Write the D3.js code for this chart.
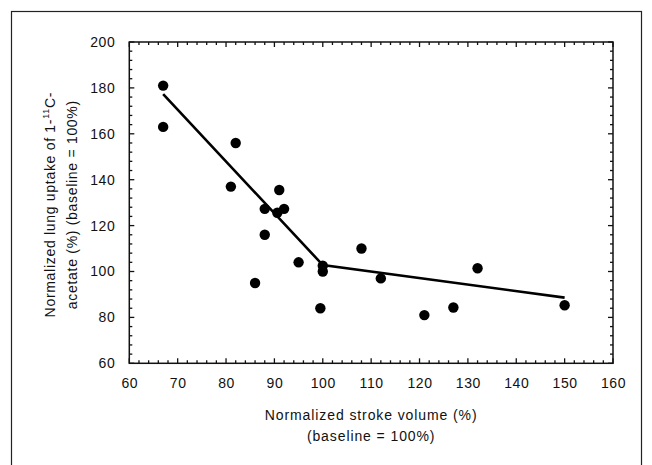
<!DOCTYPE html>
<html>
<head>
<meta charset="utf-8">
<script src="https://cdn.jsdelivr.net/npm/d3@7"></script>
<style>
html,body{margin:0;padding:0;background:#fff;}
svg{display:block;}
text{font-family:"Liberation Sans",Arial,Helvetica,sans-serif;fill:#111;}
</style>
</head>
<body>
<svg id="chart" width="652" height="465"></svg>
<script>
// Data
const strokeVolume = [67, 67, 82, 81, 91, 88, 92, 90.6, 88, 95, 100, 100, 86, 99.5, 108, 112, 121, 127, 132, 150];
const lungUptake  = [181, 163, 156, 137, 135.5, 127.3, 127.3, 125.6, 116, 104, 102.5, 100, 95, 84, 110, 97, 81, 84.3, 101.4, 85.3];
const fitX = [67, 100, 150];
const fitY = [177.3, 102.8, 88.6];
const xTicks = [60, 70, 80, 90, 100, 110, 120, 130, 140, 150, 160];
const yTicks = [60, 80, 100, 120, 140, 160, 180, 200];

const svg = d3.select("#chart");
const L = 129.3, R = 613, T = 42, B = 363.3;

// outer frame
svg.append("rect").attr("x", 11.5).attr("y", 11.5).attr("width", 630).attr("height", 470)
  .attr("fill", "none").attr("stroke", "#222").attr("stroke-width", 1.2);

const x = d3.scaleLinear().domain([60, 160]).range([L, R]);
const y = d3.scaleLinear().domain([60, 200]).range([B, T]);

// plot box
svg.append("rect").attr("x", L).attr("y", T).attr("width", R - L).attr("height", B - T)
  .attr("fill", "none").attr("stroke", "#111").attr("stroke-width", 1.5);

const g = svg.append("g");
const xMinor = d3.range(60, 160.1, 2);
const yMinor = d3.range(60, 200.1, 4);
xMinor.forEach(v => {
  const len = (v % 10 === 0) ? 5 : 3;
  g.append("line").attr("x1", x(v)).attr("x2", x(v)).attr("y1", B).attr("y2", B - len);
  g.append("line").attr("x1", x(v)).attr("x2", x(v)).attr("y1", T).attr("y2", T + len);
});
yMinor.forEach(v => {
  const len = (v % 20 === 0) ? 5 : 3;
  g.append("line").attr("y1", y(v)).attr("y2", y(v)).attr("x1", L).attr("x2", L + len);
  g.append("line").attr("y1", y(v)).attr("y2", y(v)).attr("x1", R).attr("x2", R - len);
});
g.selectAll("line").attr("stroke", "#111").attr("stroke-width", 1.3);

const xAxis = svg.append("g").attr("transform", `translate(0,${B})`)
  .call(d3.axisBottom(x).tickValues(xTicks).tickSize(0).tickPadding(15));
xAxis.select(".domain").remove();
xAxis.selectAll("text").attr("font-size", 14).attr("fill", "#111").attr("letter-spacing", 0.6)
  .style("font-family", '"Liberation Sans",Arial,sans-serif');

const yAxis = svg.append("g").attr("transform", `translate(${L},0)`)
  .call(d3.axisLeft(y).tickValues(yTicks).tickSize(0).tickPadding(14));
yAxis.select(".domain").remove();
yAxis.selectAll("text").attr("font-size", 14).attr("fill", "#111").attr("letter-spacing", 0.6)
  .style("font-family", '"Liberation Sans",Arial,sans-serif');

// fitted piecewise line
const line = d3.line().x((d, i) => x(fitX[i])).y((d, i) => y(fitY[i]));
svg.append("path").datum(fitX).attr("d", line)
  .attr("fill", "none").attr("stroke", "#000").attr("stroke-width", 2.6);

// points
svg.selectAll("circle.pt").data(strokeVolume).enter().append("circle")
  .attr("class", "pt")
  .attr("cx", d => x(d))
  .attr("cy", (d, i) => y(lungUptake[i]))
  .attr("r", 5.2).attr("fill", "#000");

// x title
const cx = (L + R) / 2;
svg.append("text").attr("x", cx).attr("y", 420).attr("text-anchor", "middle")
  .attr("font-size", 14).attr("letter-spacing", 0.9).text("Normalized stroke volume (%)");
svg.append("text").attr("x", cx).attr("y", 441).attr("text-anchor", "middle")
  .attr("font-size", 14).attr("letter-spacing", 0.9).text("(baseline = 100%)");

// y title (rotated, two lines)
const yt = svg.append("g").attr("transform", `translate(55,${(T + B) / 2 + 2}) rotate(-90)`);
const t1 = yt.append("text").attr("x", 0).attr("y", 0).attr("text-anchor", "middle")
  .attr("font-size", 14).attr("letter-spacing", 0.7);
t1.append("tspan").text("Normalized lung uptake of 1-");
t1.append("tspan").attr("font-size", 9).attr("dy", -6).text("11");
t1.append("tspan").attr("dy", 6).text("C-");
yt.append("text").attr("x", 0).attr("y", 22).attr("text-anchor", "middle").attr("font-size", 14)
  .attr("letter-spacing", 0.7).text("acetate (%) (baseline = 100%)");
</script>
</body>
</html>
